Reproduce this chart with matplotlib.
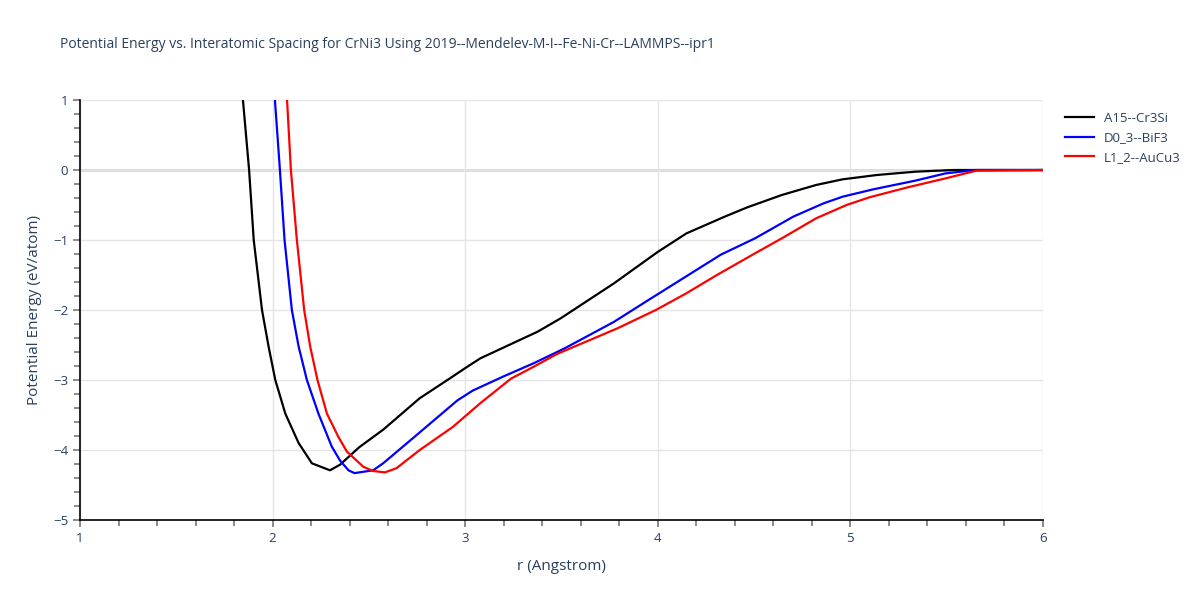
import numpy as np
import matplotlib
matplotlib.use("Agg")
import matplotlib.pyplot as plt
from matplotlib.ticker import MultipleLocator

plt.rcParams['font.family'] = ['Open Sans', 'DejaVu Sans']

# data
a15_r = [1.846, 1.878, 1.902, 1.945, 1.979, 2.014, 2.066, 2.135, 2.204, 2.298, 2.35, 2.45,
         2.574, 2.764, 2.921, 3.0, 3.079, 3.376, 3.495, 3.772, 4.0, 4.149, 4.347,
         4.465, 4.644, 4.822, 4.96, 5.139, 5.337, 5.535, 6.0]
a15_e = [1.0, 0.0, -1.0, -2.0, -2.52, -3.0, -3.48, -3.90, -4.19, -4.29, -4.21, -3.96,
         -3.71, -3.26, -2.976, -2.83, -2.69, -2.31, -2.12, -1.62, -1.17, -0.905, -0.667,
         -0.533, -0.357, -0.214, -0.133, -0.071, -0.024, 0.0, 0.0]

d03_r = [2.012, 2.038, 2.062, 2.10, 2.135, 2.178, 2.238, 2.307, 2.35, 2.394, 2.425,
         2.522, 2.574, 2.729, 2.96, 3.04, 3.198, 3.356, 3.515, 3.772, 3.95, 4.327, 4.505,
         4.703, 4.861, 4.96, 5.119, 5.337, 5.495, 5.65, 6.0]
d03_e = [1.0, 0.0, -1.0, -2.0, -2.52, -3.0, -3.48, -3.95, -4.15, -4.29, -4.33,
         -4.29, -4.19, -3.83, -3.29, -3.15, -2.95, -2.76, -2.55, -2.17, -1.86, -1.21, -0.976,
         -0.667, -0.476, -0.381, -0.276, -0.152, -0.048, 0.0, 0.0]

l12_r = [2.075, 2.095, 2.126, 2.164, 2.195, 2.233, 2.282, 2.341, 2.385, 2.471,
         2.522, 2.583, 2.643, 2.764, 2.936, 3.079, 3.238, 3.356, 3.475, 3.792, 3.99,
         4.149, 4.307, 4.505, 4.644, 4.822, 4.98, 5.099, 5.297, 5.495, 5.653, 6.0]
l12_e = [1.0, 0.0, -1.0, -2.0, -2.52, -3.0, -3.48, -3.81, -4.02, -4.24,
         -4.30, -4.32, -4.26, -4.0, -3.67, -3.33, -2.98, -2.81, -2.63, -2.26, -2.0,
         -1.76, -1.5, -1.19, -0.976, -0.69, -0.5, -0.39, -0.248, -0.119, -0.01, 0.0]

txt = '#2a3f5f'

fig = plt.figure(figsize=(12, 6), dpi=100)
ax = fig.add_axes([80/1200, 80/600, 963/1200, 420/600])

ax.plot(a15_r, a15_e, color='black', lw=1.6, label='A15--Cr3Si', zorder=3)
ax.plot(d03_r, d03_e, color='blue', lw=1.6, label='D0_3--BiF3', zorder=3)
ax.plot(l12_r, l12_e, color='red', lw=1.6, label='L1_2--AuCu3', zorder=3)

ax.set_xlim(1, 6)
ax.set_ylim(-5, 1)
ax.xaxis.set_major_locator(MultipleLocator(1))
ax.xaxis.set_minor_locator(MultipleLocator(0.2))
ax.yaxis.set_major_locator(MultipleLocator(1))
ax.yaxis.set_minor_locator(MultipleLocator(0.2))
ax.set_yticks([1, 0, -1, -2, -3, -4, -5])
ax.set_yticklabels(['1', '0', '\u22121', '\u22122', '\u22123', '\u22124', '\u22125'])

ax.grid(True, which='major', color='#e5e5e5', lw=1, zorder=0)
ax.axhline(0, color='#cccccc', lw=1.8, zorder=1)
for s in ['top', 'right']:
    ax.spines[s].set_visible(False)
for s in ['left', 'bottom']:
    ax.spines[s].set_color('black')
    ax.spines[s].set_linewidth(1.2)
ax.tick_params(which='both', direction='out', color='#777777', labelcolor=txt, labelsize=9.5)
ax.tick_params(which='major', length=5, width=1.2)
ax.tick_params(which='minor', length=4, width=1.2)

ax.set_xlabel('r (Angstrom)', color=txt, fontsize=11, labelpad=10)
ax.set_ylabel('Potential Energy (eV/atom)', color=txt, fontsize=11, labelpad=8)

fig.text(60/1200, 1 - 45/600, 'Potential Energy vs. Interatomic Spacing for CrNi3 Using 2019--Mendelev-M-I--Fe-Ni-Cr--LAMMPS--ipr1',
         color=txt, fontsize=10, va='center', ha='left')

leg = ax.legend(loc='upper left', bbox_to_anchor=(1.01, 1.0), frameon=False,
                fontsize=9.5, handlelength=2.2, labelspacing=0.5)
for t in leg.get_texts():
    t.set_color(txt)

plt.savefig('out.png', dpi=100)
